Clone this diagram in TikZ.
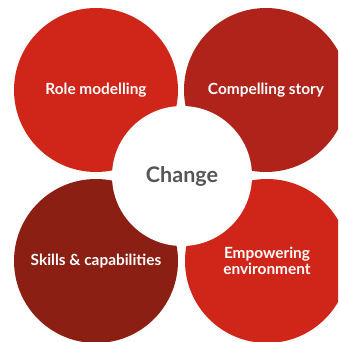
\documentclass[tikz,border=0pt]{standalone}
\usepackage{fontspec}
\setmainfont{Lato}
\usepackage{xcolor}
\usepackage{tikz}

\definecolor{brightred}{HTML}{D0261A}
\definecolor{midred}{HTML}{B0231A}
\definecolor{darkred}{HTML}{8B1F14}
\definecolor{hubgrey}{HTML}{555555}

\tikzset{
  petal/.style={circle, minimum size=164pt, inner sep=0pt, text=white,
    font=\bfseries\fontsize{15.4}{16.5}\selectfont, align=center},
  hub/.style={circle, fill=white, minimum size=140pt, inner sep=0pt,
    text=hubgrey, font=\bfseries\fontsize{21.5}{24}\selectfont}
}

\begin{document}
\begin{tikzpicture}[x=1pt, y=-1pt]
			\useasboundingbox (0, 0) rectangle (338, 342);
			\clip (0, 0) rectangle (338, 342);

			\node [petal, fill=brightred] (role) at (96, 90) {Role modelling};
			\node [petal, fill=midred] (story) at (266, 90) {Compelling story};
			\node [petal, fill=darkred] (skills) at (96, 261) {Skills \& capabilities};
			\node [petal, fill=brightred] (enviro) at (267, 261) {Empowering\\environment};

			\node [hub] (change) at (182, 176) {Change};
		\end{tikzpicture}
\end{document}
